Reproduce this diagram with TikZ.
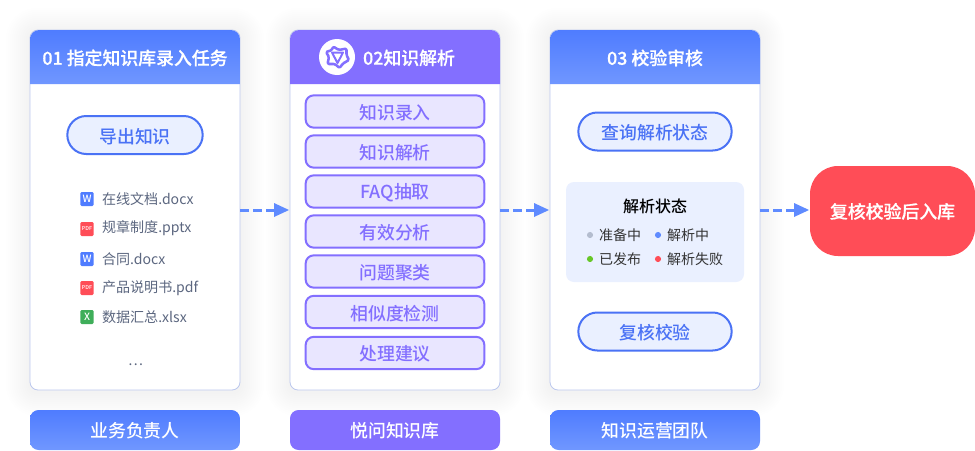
\documentclass[tikz,border=0pt]{standalone}
\usepackage{fontspec}
\setmainfont{Noto Sans CJK SC}[BoldFont={Noto Sans CJK SC Medium}]
\newfontfamily\heavyf{Noto Sans CJK SC Medium}[FakeBold=0.5]
\usetikzlibrary{arrows.meta,calc}
\definecolor{blueA}{HTML}{4F7CFF}
\definecolor{blueB}{HTML}{7097FF}
\definecolor{blueline}{HTML}{4A72F5}
\definecolor{bluefill}{HTML}{EAF0FF}
\definecolor{purp}{HTML}{836FFF}
\definecolor{purpfill}{HTML}{E9E6FF}
\definecolor{cardline}{HTML}{BCC8EE}
\definecolor{filetext}{HTML}{5C6780}
\definecolor{redc}{HTML}{FF4D57}
\definecolor{greenx}{HTML}{3FAE5A}
\definecolor{arrowc}{HTML}{5F8BFF}
\definecolor{dotgrey}{HTML}{B4BDCF}
\definecolor{dotgreen}{HTML}{67C728}
\newcommand{\lw}[1]{\raisebox{-0.9pt}[\height][\depth]{#1}}
\newcommand{\hw}[1]{\raisebox{-0.3pt}[\height][\depth]{#1}}
\tikzset{
  x=0.75pt,y=-0.75pt,
  every node/.style={inner sep=0pt,outer sep=0pt},
  cardbox/.style={draw=cardline,line width=0.6pt,fill=white,rounded corners=6pt,minimum width=157.5pt,minimum height=270pt},
  headtext/.style={text=white,font=\fontsize{13.4pt}{15pt}\selectfont\heavyf},
  pillbox/.style={draw=blueline,line width=1.5pt,fill=bluefill,rounded corners=14.2pt,text=blueline,font=\fontsize{13.4pt}{15pt}\selectfont\bfseries},
  stepbox/.style={draw=purp,line width=1.5pt,fill=purpfill,rounded corners=6pt,minimum width=134pt,minimum height=24.2pt,text=purp,font=\fontsize{13.4pt}{15pt}\selectfont\bfseries},
  filetxt/.style={anchor=west,text=filetext,font=\fontsize{10.55pt}{12pt}\selectfont},
  ficon/.style={rounded corners=1pt,minimum width=10pt,minimum height=10.5pt,text=white,font=\fontsize{7.5pt}{8pt}\selectfont\bfseries},
  picon/.style={ficon,fill=redc,font=\fontsize{4pt}{4pt}\selectfont\bfseries},
  stattxt/.style={anchor=west,text=black!80,font=\fontsize{10.5pt}{12pt}\selectfont},
  dotm/.style={circle,minimum size=4.6pt},
  barbox/.style={rounded corners=6.5pt,minimum width=157.5pt,minimum height=30pt,text=white,font=\fontsize{13.4pt}{15pt}\selectfont\bfseries},
  flow/.style={draw=arrowc,line width=2.25pt,dash pattern=on 6.5pt off 3.25pt,shorten >=10pt},
  tipm/.style={fill=arrowc},
}
\newcommand{\softglow}[4]{%
  \foreach \g in {24,22,...,2}{
    \fill[black,opacity=0.0035,rounded corners=\g*0.75pt+5pt] (#1-\g,#2-\g+2) rectangle (#3+\g,#4+\g+2);
  }}
\newcommand{\flowtip}[1]{\fill[tipm] ($(#1)+(-1,0)$) -- ++(-15,-7) -- ++(0,14) -- cycle;}
\begin{document}
\begin{tikzpicture}
\useasboundingbox (0,0) rectangle (975,450);
\fill[white] (0,0) rectangle (975,450);
% soft shadows
\softglow{30}{30}{240}{390}
\softglow{290}{30}{500}{390}
\softglow{550}{30}{760}{390}
% cards
\node[cardbox] (card1) at (135,210) {};
\node[cardbox] (card2) at (395,210) {};
\node[cardbox] (card3) at (655,210) {};
% headers
\shade[top color=blueA,bottom color=blueB] (30,84) [rounded corners=7pt] -- (30,30) -- (240,30) [sharp corners] -- (240,84) -- cycle;
\fill[purp] (290,84) [rounded corners=7pt] -- (290,30) -- (500,30) [sharp corners] -- (500,84) -- cycle;
\shade[top color=blueA,bottom color=blueB] (550,84) [rounded corners=7pt] -- (550,30) -- (760,30) [sharp corners] -- (760,84) -- cycle;
\node[headtext] (h1) at (135,57.5) {\hw{01 指定知识库录入任务}};
\node[headtext] (h2) at (409,57.5) {\hw{02知识解析}};
\node[headtext] (h3) at (655,57.5) {\hw{03 校验审核}};
% logo
\node[circle,fill=white,minimum size=27pt] (logo) at (337,57) {};
\draw[purp,line width=1.9pt,rounded corners=1pt,line join=round] (333,46.5) -- (339,50) -- (346.5,48.5) -- (346.5,55) -- (349,60) -- (343,63.5) -- (339.5,68) -- (335,64) -- (327.5,64) -- (329,57) -- (326,52) -- (332,50) -- cycle;
\draw[purp,line width=1.5pt,line join=round] (332,52.5) -- (343,52.5) -- (337.5,63) -- cycle;
\fill[white] (335.5,54.5) -- (340.5,54.5) -- (337.8,59.5) -- cycle;
% card 1
\node[pillbox,minimum width=101.5pt,minimum height=28.5pt] (export) at (135,135) {\lw{导出知识}};
\node[ficon,fill=blueA] (i1) at (87,199) {W};
\node[picon] (i2) at (87,229) {PDF};
\node[ficon,fill=blueA] (i3) at (87,259) {W};
\node[picon] (i4) at (87,288) {PDF};
\node[ficon,fill=greenx] (i5) at (87,317) {X};
\node[filetxt] (f1) at (102,199.5) {在线文档.docx};
\node[filetxt] (f2) at (102,228.5) {规章制度.pptx};
\node[filetxt] (f3) at (102,259.5) {合同.docx};
\node[filetxt] (f4) at (102,288.5) {产品说明书.pdf};
\node[filetxt] (f5) at (102,317.5) {数据汇总.xlsx};
\node[filetxt] (f6) at (128,365) {…};
% card 2
\node[stepbox] (s1) at (395,111.5) {\lw{知识录入}};
\node[stepbox] (s2) at (395,151.5) {\lw{知识解析}};
\node[stepbox] (s3) at (395,191.5) {\lw{FAQ抽取}};
\node[stepbox] (s4) at (395,231.5) {\lw{有效分析}};
\node[stepbox] (s5) at (395,271.5) {\lw{问题聚类}};
\node[stepbox] (s6) at (395,312) {\lw{相似度检测}};
\node[stepbox] (s7) at (395,353) {\lw{处理建议}};
% card 3
\node[pillbox,minimum width=115pt,minimum height=28.5pt] (query) at (655,131.5) {\lw{查询解析状态}};
\node[pillbox,minimum width=115pt,minimum height=28.5pt] (recheck) at (655,331.5) {\lw{复核校验}};
\node[fill=bluefill,rounded corners=6pt,minimum width=133.5pt,minimum height=75pt] (panel) at (655,232) {};
\node[text=black,font=\fontsize{12pt}{14pt}\selectfont\bfseries] (ptitle) at (655,206.5) {解析状态};
\node[dotm,fill=dotgrey] (d1) at (590,235) {};
\node[dotm,fill=arrowc] (d2) at (658,235) {};
\node[dotm,fill=dotgreen] (d3) at (590,259) {};
\node[dotm,fill=redc] (d4) at (658,259) {};
\node[stattxt] (t1) at (599,235.5) {准备中};
\node[stattxt] (t2) at (667,235.5) {解析中};
\node[stattxt] (t3) at (599,259.5) {已发布};
\node[stattxt] (t4) at (667,259.5) {解析失败};
% result
\node[fill=redc,rounded corners=21pt,minimum width=123.75pt,minimum height=67.5pt,text=white,font=\fontsize{13.4pt}{15pt}\selectfont\heavyf] (result) at (892.5,211) {\hw{复核校验后入库}};
% bottom bars
\node[barbox,top color=blueA,bottom color=blueB] (b1) at (135,430) {\lw{业务负责人}};
\node[barbox,fill=purp] (b2) at (395,430) {\lw{悦问知识库}};
\node[barbox,top color=blueA,bottom color=blueB] (b3) at (655,430) {\lw{知识运营团队}};
% connectors
\draw[flow] (card1) -- (card2.west);
\flowtip{card2.west}
\draw[flow] (card2) -- (card3.west);
\flowtip{card3.west}
\coordinate (rin) at (card3.east -| result.west);
\draw[flow] (card3) -- (rin);
\flowtip{rin}
\end{tikzpicture}
\end{document}
